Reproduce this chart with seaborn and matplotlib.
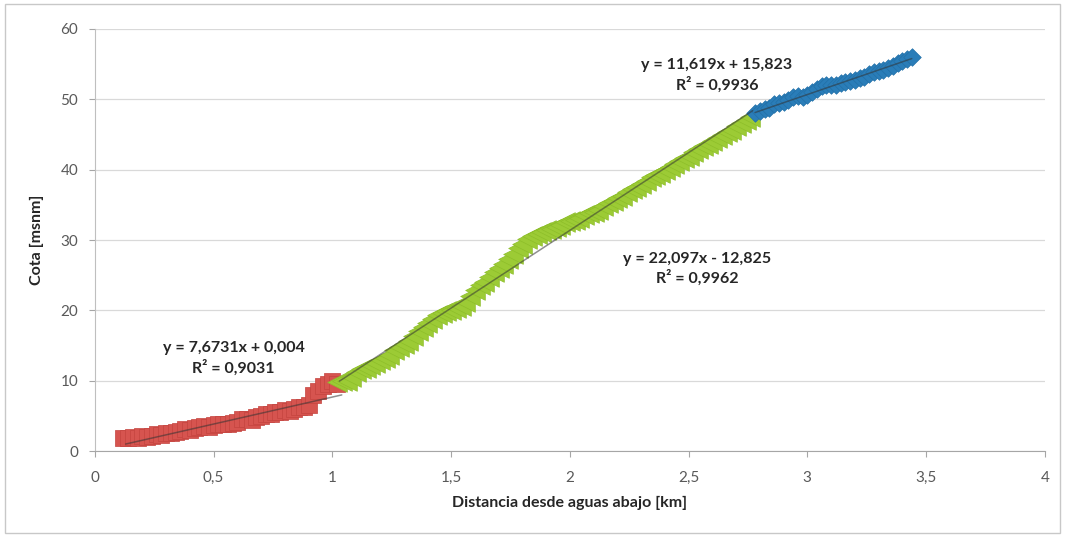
import numpy as np
import pandas as pd
import matplotlib
matplotlib.use('Agg')
import matplotlib.pyplot as plt
import matplotlib.patches as mpatches
import seaborn as sns

# Tramo inferior (cuadrados rojos)
red_x = [0.12, 0.14, 0.16, 0.18, 0.20, 0.22, 0.24, 0.26, 0.28, 0.30, 0.32, 0.34, 0.36, 0.38,
         0.40, 0.42, 0.44, 0.46, 0.48, 0.50, 0.52, 0.54, 0.56, 0.58, 0.60, 0.62, 0.64, 0.66,
         0.68, 0.70, 0.72, 0.74, 0.76, 0.78, 0.80, 0.82, 0.84, 0.86, 0.88, 0.90, 0.92, 0.94,
         0.96, 0.98, 1.00, 1.02]
red_y = [1.9, 1.8, 2.0, 1.9, 2.1, 2.0, 2.2, 2.4, 2.3, 2.6, 2.5, 2.7, 2.9, 3.1,
         3.0, 3.3, 3.4, 3.5, 3.4, 3.7, 3.8, 3.9, 3.8, 4.0, 4.1, 4.5, 4.6, 4.4,
         4.8, 5.0, 5.3, 5.2, 5.5, 5.6, 5.8, 5.7, 6.0, 6.2, 6.3, 6.5, 8.0, 8.6,
         9.2, 9.6, 10.0, 9.5]

# Tramo medio (triangulos verdes)
green_x = [1.02, 1.04, 1.06, 1.08, 1.10, 1.12, 1.14, 1.16, 1.18, 1.20, 1.22, 1.24, 1.26, 1.28,
           1.30, 1.32, 1.34, 1.36, 1.38, 1.40, 1.42, 1.44, 1.46, 1.48, 1.50, 1.52, 1.54, 1.56,
           1.58, 1.60, 1.62, 1.64, 1.66, 1.68, 1.70, 1.72, 1.74, 1.76, 1.78, 1.80, 1.82, 1.84,
           1.86, 1.88, 1.90, 1.92, 1.94, 1.96, 1.98, 2.00, 2.02, 2.04, 2.06, 2.08, 2.10, 2.12,
           2.14, 2.16, 2.18, 2.20, 2.22, 2.24, 2.26, 2.28, 2.30, 2.32, 2.34, 2.36, 2.38, 2.40,
           2.42, 2.44, 2.46, 2.48, 2.50, 2.52, 2.54, 2.56, 2.58, 2.60, 2.62, 2.64, 2.66, 2.68,
           2.70, 2.72, 2.74, 2.76]
green_y = [9.8, 10.0, 9.9, 10.5, 11.2, 11.6, 11.8, 12.3, 12.5, 12.9, 13.2, 13.6, 14.3, 14.8,
           15.2, 15.6, 16.3, 17.0, 17.6, 18.2, 18.8, 19.3, 19.6, 19.9, 20.0, 20.3, 20.6, 21.2,
           22.0, 22.9, 23.6, 24.0, 24.8, 25.5, 26.0, 26.6, 27.3, 28.0, 28.8, 29.5, 30.2, 30.6,
           30.9, 31.2, 31.4, 31.6, 31.9, 32.2, 32.5, 32.7, 32.9, 33.2, 33.5, 33.8, 34.0, 34.3,
           34.8, 35.2, 35.6, 36.0, 36.3, 36.8, 37.2, 37.6, 38.0, 38.4, 38.9, 39.2, 39.5, 40.0,
           40.4, 40.8, 41.2, 41.6, 42.0, 42.5, 42.9, 43.3, 43.7, 44.1, 44.5, 44.9, 45.3, 45.7,
           46.2, 46.6, 47.0, 47.5]

# Tramo superior (rombos azules)
blue_x = [2.78, 2.80, 2.82, 2.84, 2.86, 2.88, 2.90, 2.92, 2.94, 2.96, 2.98, 3.00, 3.02, 3.04,
          3.06, 3.08, 3.10, 3.12, 3.14, 3.16, 3.18, 3.20, 3.22, 3.24, 3.26, 3.28, 3.30, 3.32,
          3.34, 3.36, 3.38, 3.40, 3.42, 3.44]
blue_y = [48.0, 48.3, 48.6, 48.8, 49.3, 49.5, 49.6, 49.9, 50.3, 50.5, 50.4, 50.6, 51.1, 51.5,
          51.9, 52.1, 52.0, 52.1, 52.3, 52.4, 52.6, 52.8, 53.0, 53.2, 53.6, 53.9, 54.0, 54.2,
          54.5, 54.8, 55.1, 55.4, 55.7, 56.0]

# Lineas de tendencia: pendiente, ordenada, rango x
trend_red = [7.6731, 0.004, 0.13, 1.04]
trend_green = [22.097, -12.825, 1.03, 2.77]
trend_blue = [11.619, 15.823, 2.78, 3.44]

labels = ['y = 7,6731x + 0,004\nR² = 0,9031',
          'y = 22,097x - 12,825\nR² = 0,9962',
          'y = 11,619x + 15,823\nR² = 0,9936']

sns.set_style('white')
plt.rcParams['font.family'] = ['Lato', 'DejaVu Sans']

fig = plt.figure(figsize=(10.65, 5.37), dpi=100)
ax = fig.add_axes([0.089, 0.160, 0.892, 0.786])

red_df = pd.DataFrame({'x': red_x, 'y': red_y})
green_df = pd.DataFrame({'x': green_x, 'y': green_y})
blue_df = pd.DataFrame({'x': blue_x, 'y': blue_y})

sns.scatterplot(data=red_df, x='x', y='y', marker='s', s=130, color='#D6544F',
                edgecolor='#C4443F', linewidth=0.5, ax=ax, zorder=3)
sns.scatterplot(data=green_df, x='x', y='y', marker='<', s=200, color='#9CCB35',
                edgecolor='#8DBE2A', linewidth=0.5, ax=ax, zorder=3)
sns.scatterplot(data=blue_df, x='x', y='y', marker='D', s=80, color='#2A7DB8',
                edgecolor='#2270A8', linewidth=0.5, ax=ax, zorder=3)

for m, b, x0, x1 in [trend_red, trend_green, trend_blue]:
    xs = np.array([x0, x1])
    ax.plot(xs, m * xs + b, color='#333333', alpha=0.55, linewidth=1.1, zorder=4)

ax.text(0.585, 13.2, labels[0], ha='center', va='center', fontsize=11.5,
        fontweight='bold', color='#262626', linespacing=1.3)
ax.text(2.535, 25.9, labels[1], ha='center', va='center', fontsize=11.5,
        fontweight='bold', color='#262626', linespacing=1.3)
ax.text(2.62, 53.4, labels[2], ha='center', va='center', fontsize=11.5,
        fontweight='bold', color='#262626', linespacing=1.3)

ax.set_xlim(0, 4)
ax.set_ylim(0, 60)
ax.set_xticks([0, 0.5, 1, 1.5, 2, 2.5, 3, 3.5, 4])
ax.set_xticklabels(['0', '0,5', '1', '1,5', '2', '2,5', '3', '3,5', '4'])
ax.set_yticks([0, 10, 20, 30, 40, 50, 60])
ax.yaxis.grid(True, color='#D9D9D9', linewidth=0.9)
ax.set_axisbelow(True)
ax.tick_params(axis='both', labelsize=11, labelcolor='#595959', color='#A6A6A6',
               length=4, width=0.8, direction='out', bottom=True, left=True)
ax.tick_params(axis='x', pad=10)
ax.tick_params(axis='y', pad=8)

for side in ['top', 'right']:
    ax.spines[side].set_visible(False)
ax.spines['left'].set_color('#BFBFBF')
ax.spines['bottom'].set_color('#A6A6A6')

ax.set_xlabel('Distancia desde aguas abajo [km]', fontsize=11.5, fontweight='bold',
              color='#262626', labelpad=8)
ax.set_ylabel('Cota [msnm]', fontsize=11.5, fontweight='bold', color='#262626', labelpad=12)

fig.patches.append(mpatches.Rectangle((0.005, 0.008), 0.99, 0.984, transform=fig.transFigure,
                                      fill=False, edgecolor='#C8C8C8', linewidth=1))

fig.savefig('out.png', dpi=100)
